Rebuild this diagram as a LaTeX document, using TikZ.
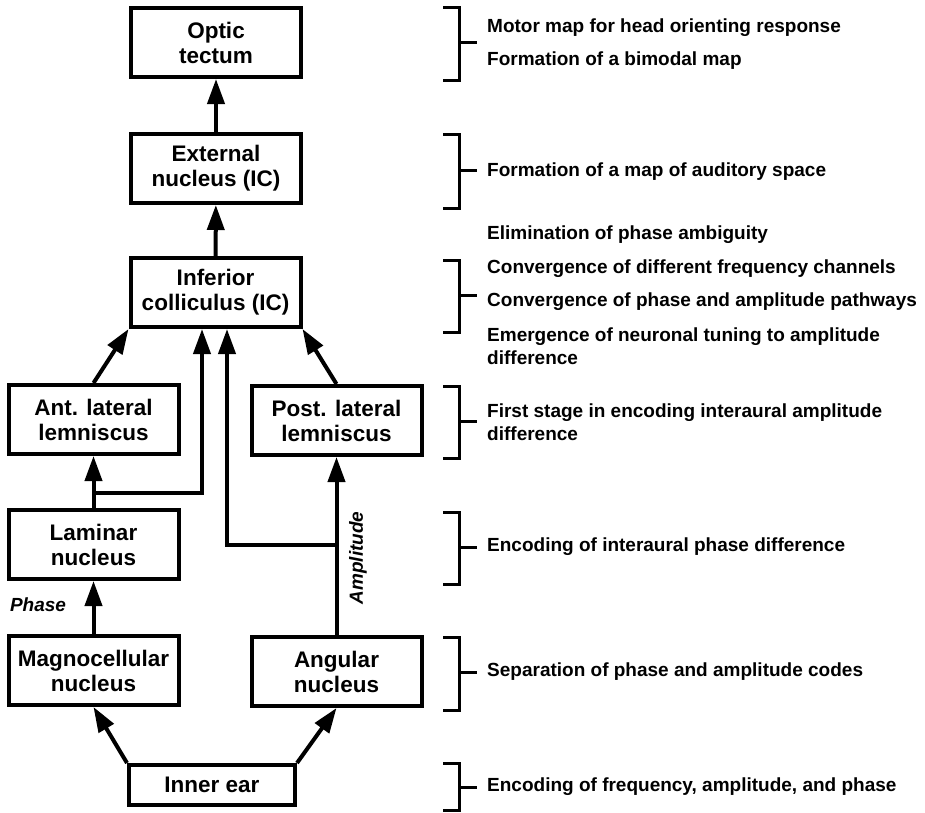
\documentclass[tikz,border=0pt]{standalone}
\usepackage{fontspec}
\setmainfont{Liberation Sans}
\usetikzlibrary{calc}
\usetikzlibrary{arrows.meta}

\tikzset{
  box/.style={draw, line width=4pt, minimum width=170pt, minimum height=69pt,
    align=center, inner sep=0pt, font=\fontsize{22.5}{25}\selectfont\bfseries},
  flow/.style={line width=4pt, -{Triangle[length=25pt,width=17pt]}},
  brace/.style={line width=3pt},
  note/.style={anchor=west, inner sep=0pt, align=left,
    font=\fontsize{19}{23}\selectfont\bfseries},
  codelabel/.style={inner sep=0pt, font=\fontsize{19}{19}\selectfont\bfseries\itshape},
}

\begin{document}
\begin{tikzpicture}[x=1pt,y=-1pt]
                        \useasboundingbox (0,0) rectangle (925,812);
                        
                        % Drawing boxes of the pathway
                        \draw (216,42.5) node [box] (tectum) {Optic\\tectum};%
                        \draw (216,168.5) node [box] (extnuc) {External\\nucleus (IC)};%
                        \draw (215.5,292.5) node [box] (infcol) {Inferior\\colliculus (IC)};%
                        \draw (93.5,419.5) node [box] (antlem) {Ant. lateral\\lemniscus};%
                        \draw (336.5,420.5) node [box] (postlem) {Post. lateral\\lemniscus};%
                        \draw (93.5,544.5) node [box] (laminar) {Laminar\\nucleus};%
                        \draw (93.5,670.5) node [box] (magno) {Magnocellular\\nucleus};%
                        \draw (336.5,671.5) node [box] (angular) {Angular\\nucleus};%
                        \draw (212,785) node [box, minimum width=166pt, minimum height=40pt] (innerear) {Inner ear};%
                        
                        % Drawing forks of the two pathways
                        \coordinate (phasefork) at (93.5,493);%
                        \coordinate (ampfork) at (336.5,545);%
                        
                        % Drawing arrows
                        \draw [flow] (innerear.north west) -- (magno.south);%
                        \draw [flow] (innerear.north east) -- (angular.south);%
                        \draw [flow] (magno) -- (laminar);%
                        \draw [flow] (laminar) -- (antlem);%
                        \draw [flow] (angular) -- (postlem);%
                        \draw [flow] (phasefork) -| ([xshift=-13.5pt]infcol.south);%
                        \draw [flow] (ampfork) -| ([xshift=11.5pt]infcol.south);%
                        \draw [flow] (antlem.north) -- (infcol.south west);%
                        \draw [flow] (postlem.north) -- (infcol.south east);%
                        \draw [flow] (infcol) -- (extnuc);%
                        \draw [flow] (extnuc) -- (tectum);%
                        
                        % Marking the codes
                        \draw (38,605) node [codelabel] (phase) {Phase};%
                        \draw (358,558) node [codelabel, rotate=90] (amp) {Amplitude};%
                        
                        % Drawing brackets
                        \foreach \ya/\yb/\yc in {7/80/42, 134/208/170, 260/332/295, 386/458/421,
                                                 512/584/547, 637/710/672, 763/810/787}
                        {
                          \draw [brace] (443,\ya) -- (459,\ya) -- (459,\yb) -- (443,\yb);%
                          \draw [brace] (459,\yc) -- (477,\yc);%
                        }
                        
                        % Writing functions
                        \draw (487,28) node [note] (fn1a) {Motor map for head orienting response};%
                        \draw (487,61) node [note] (fn1b) {Formation of a bimodal map};%
                        \draw (487,172) node [note] (fn2) {Formation of a map of auditory space};%
                        \draw (487,235) node [note] (fn3a) {Elimination of phase ambiguity};%
                        \draw (487,269) node [note] (fn3b) {Convergence of different frequency channels};%
                        \draw (487,302) node [note] (fn3c) {Convergence of phase and amplitude pathways};%
                        \draw (487,346.5) node [note] (fn3d) {Emergence of neuronal tuning to amplitude\\difference};%
                        \draw (487,422) node [note] (fn4) {First stage in encoding interaural amplitude\\difference};%
                        \draw (487,547) node [note] (fn5) {Encoding of interaural phase difference};%
                        \draw (487,672) node [note] (fn6) {Separation of phase and amplitude codes};%
                        \draw (487,787) node [note] (fn7) {Encoding of frequency, amplitude, and phase};%
                    \end{tikzpicture}
\end{document}
